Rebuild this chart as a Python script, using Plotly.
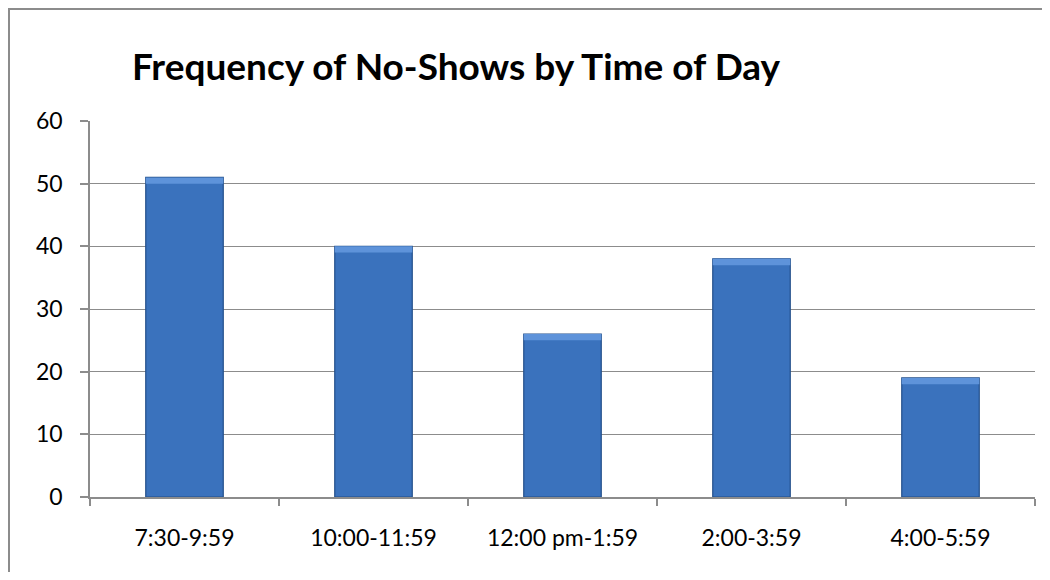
import plotly.graph_objects as go

categories = ["7:30-9:59", "10:00-11:59", "12:00 pm-1:59", "2:00-3:59", "4:00-5:59"]
values = [51, 40, 26, 38, 19]
title_text = "Frequency of No-Shows by Time of Day"
y_ticks = [0, 10, 20, 30, 40, 50, 60]

# page body has an 8px margin; figure is sized so it fits the 1050x580 window
W, H = 1034, 564
L, R, T, B = 82, 7, 113, 75
pw, ph = W - L - R, H - T - B

def px_to_paper_x(px):
    return (px - L) / pw

def px_to_paper_y(py):
    return (H - B - py) / ph

highlight = 1.0  # thickness (data units) of the lighter bevel band at the bar top

fig = go.Figure()
fig.add_trace(go.Bar(
    x=categories, y=values,
    marker=dict(color="#3a72bd", line=dict(color="#234f8a", width=1.2)),
    hoverinfo="x+y",
))
fig.add_trace(go.Bar(
    x=categories, y=[highlight] * len(values), base=[v - highlight for v in values],
    marker=dict(color="#5e93da", line=dict(width=0)),
    hoverinfo="skip",
))

fig.update_layout(
    width=W, height=H,
    margin=dict(l=L, r=R, t=T, b=B),
    paper_bgcolor="white", plot_bgcolor="white",
    barmode="overlay",
    bargap=0.59,
    showlegend=False,
    font=dict(family="Lato, Calibri, sans-serif", color="#000000"),
    title=dict(
        text="<b>" + title_text + "</b>",
        x=px_to_paper_x(448), xref="paper", xanchor="center",
        y=1 - 59 / H, yref="container", yanchor="middle",
        font=dict(family="Lato, sans-serif", size=37, color="#000000"),
    ),
    xaxis=dict(
        type="category",
        showline=True, linecolor="#8c8c8c", linewidth=1.5,
        ticks="outside", tickson="boundaries", ticklen=7, tickcolor="#8c8c8c", tickwidth=1.5,
        showgrid=False,
        tickfont=dict(size=23, family="Lato, sans-serif", color="#000000"),
        ticklabelstandoff=20,
    ),
    yaxis=dict(
        range=[0, 60], tickvals=y_ticks,
        showline=True, linecolor="#8c8c8c", linewidth=1.5,
        ticks="outside", ticklen=8, tickcolor="#8c8c8c", tickwidth=1.5,
        showgrid=True, gridcolor="#8c8c8c", gridwidth=1.2,
        tickfont=dict(size=23, family="Lato, sans-serif", color="#000000"),
        ticklabelstandoff=13,
        zeroline=False,
    ),
    shapes=[
        dict(type="line", xref="paper", yref="paper",
             x0=px_to_paper_x(0), x1=px_to_paper_x(W + 10), y0=px_to_paper_y(1), y1=px_to_paper_y(1),
             line=dict(color="#8c8c8c", width=2)),
        dict(type="line", xref="paper", yref="paper",
             x0=px_to_paper_x(1), x1=px_to_paper_x(1), y0=px_to_paper_y(0), y1=px_to_paper_y(H + 10),
             line=dict(color="#8c8c8c", width=2)),
    ],
)

fig.write_html("out.html")
